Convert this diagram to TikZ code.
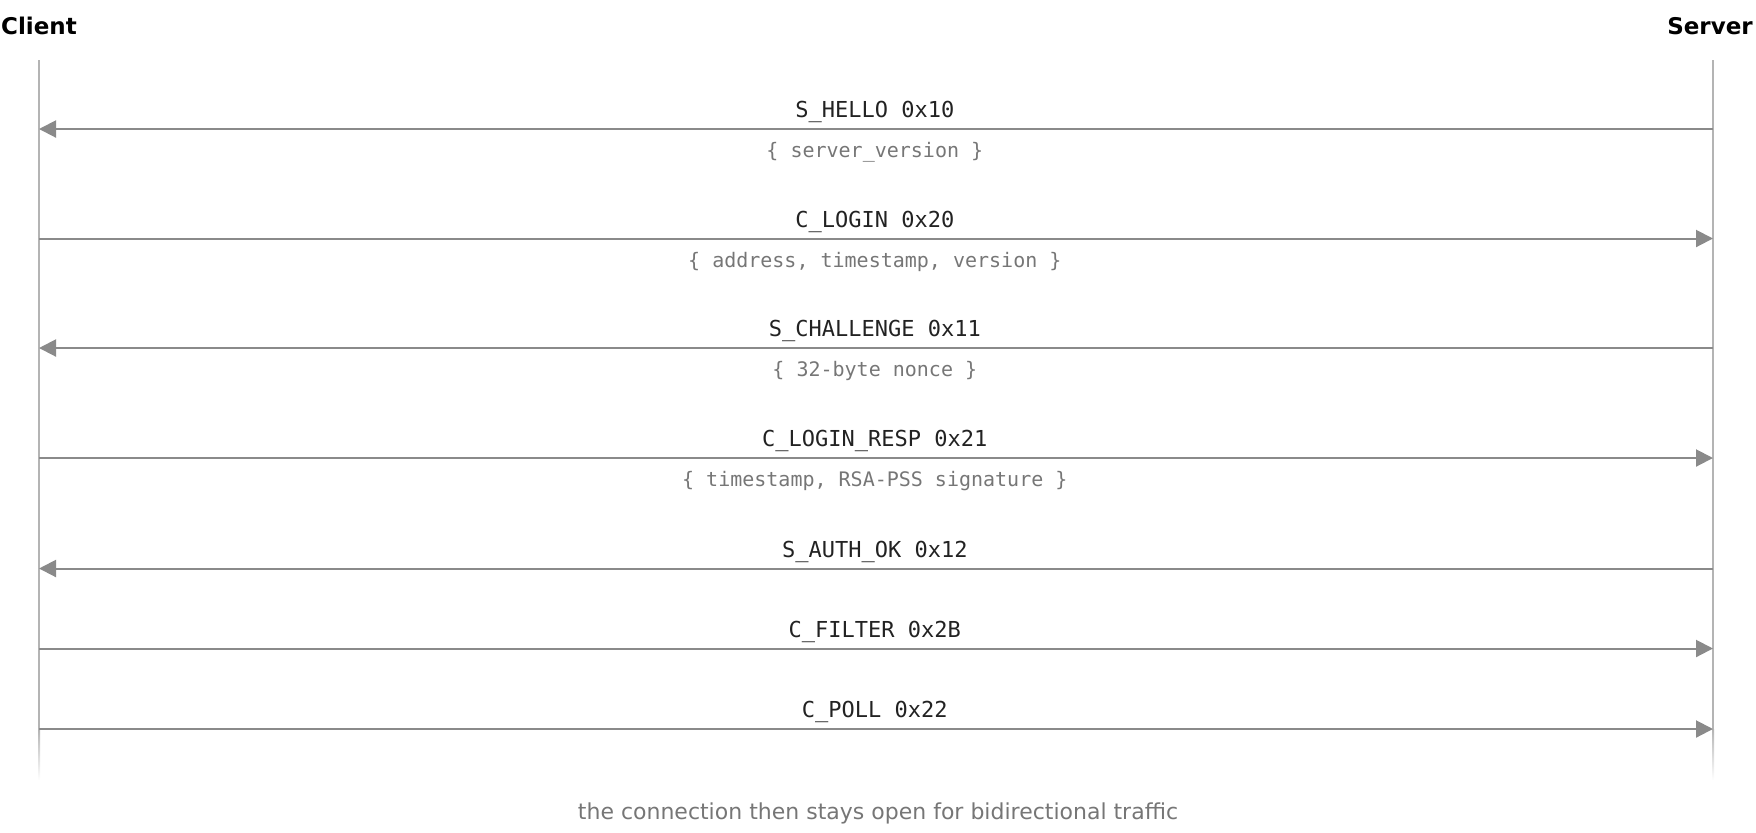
\documentclass[tikz,border=0pt]{standalone}
\usepackage{fontspec}
\setmainfont{DejaVu Sans}
\setmonofont{DejaVu Sans Mono}
\usetikzlibrary{arrows.meta, positioning}
\definecolor{lifegray}{HTML}{B4B4B4}
\definecolor{arrowgray}{HTML}{8A8A8A}
\definecolor{labelink}{HTML}{222222}
\definecolor{subink}{HTML}{767676}

\begin{document}
\begin{tikzpicture}[
  x=0.5pt, y=-0.5pt,
  >={Triangle[length=8.5pt, width=8.5pt]},
  actor/.style={font=\fontsize{11.5}{14}\selectfont\bfseries, text=black, inner sep=0pt},
  lifeline/.style={lifegray, line width=1pt},
  msgline/.style={arrowgray, line width=1pt, ->},
  msg/.style={font=\fontsize{11}{13}\selectfont\ttfamily, text=labelink, inner sep=0pt, anchor=base, yshift=5.65pt, xshift=-0.6pt},
  fields/.style={font=\fontsize{10}{12}\selectfont\ttfamily, text=subink, inner sep=0pt, anchor=base, yshift=-14.45pt, xshift=-0.6pt},
  note/.style={font=\fontsize{11}{13}\selectfont, text=subink, inner sep=0pt}
]
\useasboundingbox (0,0) rectangle (1756,832);

% Actors
\node[actor] (client) at (39,26) {Client};
\node[actor] (server) at (1710,26) {Server};

% Lifelines
\coordinate (ctop) at (39,60);
\coordinate (cend) at (39,729);
\coordinate (stop) at (1713,60);
\coordinate (send) at (1713,729);
\draw[lifeline] (ctop) -- (cend);
\draw[lifeline] (stop) -- (send);
% fading tails
\shade[top color=lifegray, bottom color=white] (38,729) rectangle (40,780);
\shade[top color=lifegray, bottom color=white] (1712,729) rectangle (1714,780);

% Message rows
\foreach \i/\y in {1/129, 2/238.5, 3/348, 4/458, 5/568.5, 6/648.5, 7/729} {
  \coordinate (c\i) at (39,\y);
  \coordinate (s\i) at (1713,\y);
}

% Handshake
\draw[msgline] (s1) -- node[msg, midway] {S\_HELLO 0x10}
  node[fields, midway] {\{ server\_version \}} (c1);
\draw[msgline] (c2) -- node[msg, midway] {C\_LOGIN 0x20}
  node[fields, midway] {\{ address, timestamp, version \}} (s2);
\draw[msgline] (s3) -- node[msg, midway] {S\_CHALLENGE 0x11}
  node[fields, midway] {\{ 32-byte nonce \}} (c3);
\draw[msgline] (c4) -- node[msg, midway] {C\_LOGIN\_RESP 0x21}
  node[fields, midway] {\{ timestamp, RSA-PSS signature \}} (s4);
\draw[msgline] (s5) -- node[msg, midway] {S\_AUTH\_OK 0x12} (c5);
% After login
\draw[msgline] (c6) -- node[msg, midway] {C\_FILTER 0x2B} (s6);
\draw[msgline] (c7) -- node[msg, midway] {C\_POLL 0x22} (s7);

% Footnote
\node[note] (footer) at (878,813) {the connection then stays open for bidirectional traffic};

\end{tikzpicture}
\end{document}
